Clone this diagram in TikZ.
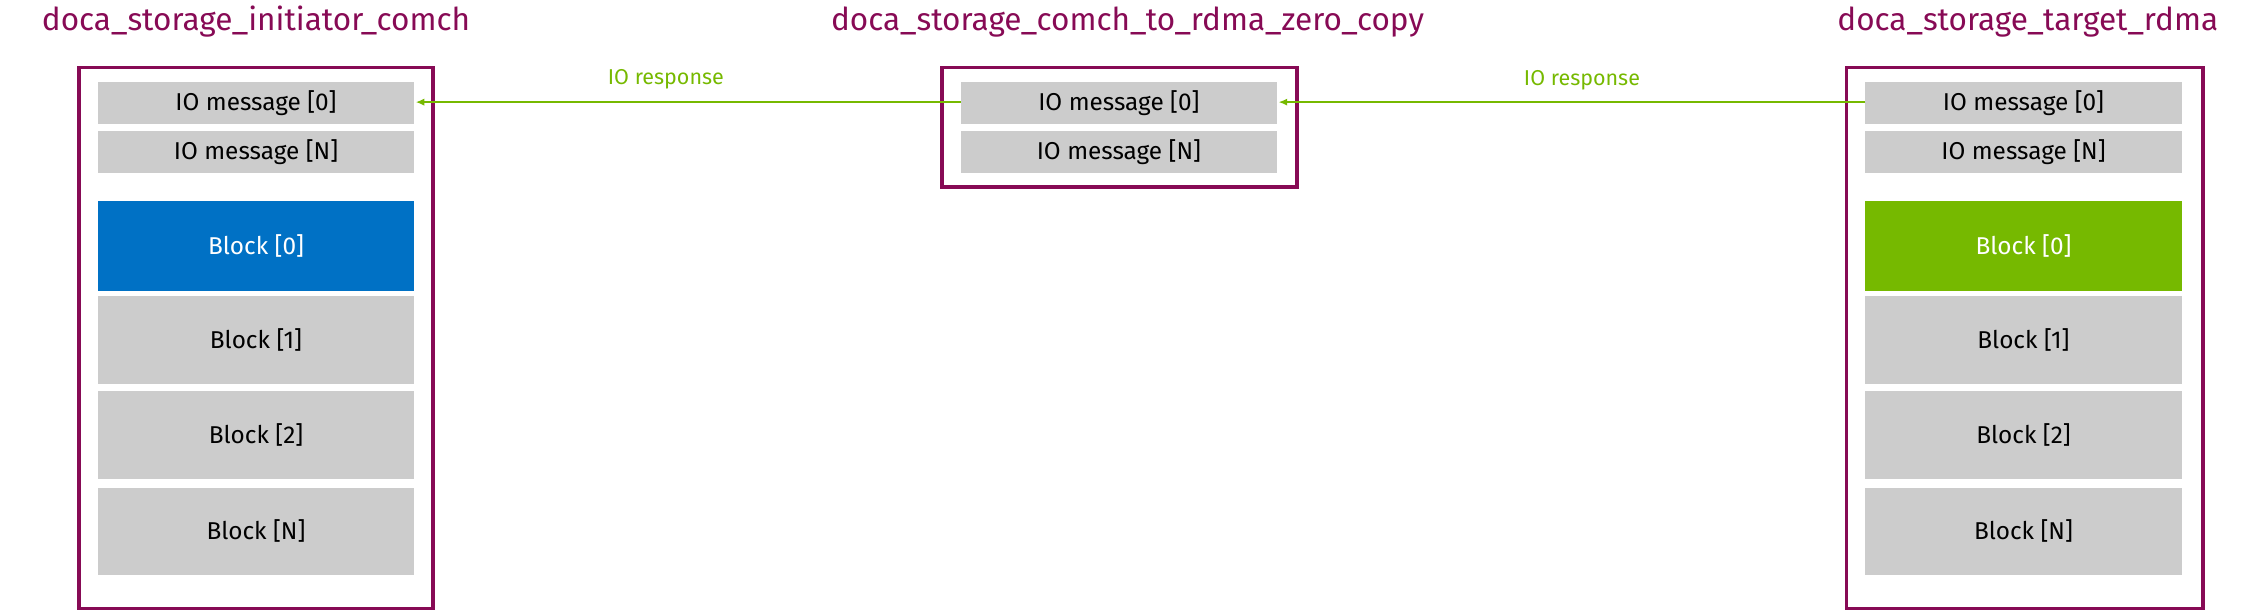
\documentclass[tikz,border=0pt]{standalone}
\usepackage{fontspec}
\setmainfont{Fira Sans}
\definecolor{plum}{HTML}{870A55}
\definecolor{nvgreen}{HTML}{76B900}
\definecolor{nvblue}{HTML}{0071C5}
\definecolor{cellgray}{HTML}{CCCCCC}
\begin{document}
\begin{tikzpicture}[x=1bp,y=-1bp,
  frame/.style={draw=plum,line width=2.5bp},
  cell/.style={fill=cellgray,inner sep=0,font=\fontsize{17}{20}\selectfont},
  title/.style={text=plum,inner sep=0,font=\fontsize{22}{26}\selectfont},
  resp/.style={nvgreen,line width=1.2bp,-{Latex[length=6bp,width=5bp]}},
  rlabel/.style={text=nvgreen,inner sep=0,font=\fontsize{15}{18}\selectfont}]
\usetikzlibrary{arrows.meta}
\useasboundingbox (0,0) rectangle (1568,428);
% titles
\node[title] (t1) at (178,15) {doca\_storage\_initiator\_comch};
\node[title] (t2) at (784,15) {doca\_storage\_comch\_to\_rdma\_zero\_copy};
\node[title] (t3) at (1410,15) {doca\_storage\_target\_rdma};
% frames
\draw[frame] (55,47) rectangle (301,423);
\draw[frame] (655,47) rectangle (902,130);
\draw[frame] (1284,47) rectangle (1532,423);
% cells
\foreach \x/\p in {68/L,668/M,1297/R}{
  \path[cell] (\x,57) rectangle ++(220,29) node[midway] (\p m0) {IO message [0]};
  \path[cell] (\x,91) rectangle ++(220,29) node[midway] (\p mN) {IO message [N]};
}
\foreach \x/\p in {68/L,1297/R}{
  \path[cell] (\x,206) rectangle ++(220,61) node[midway] (\p b1) {Block [1]};
  \path[cell] (\x,272) rectangle ++(220,61) node[midway] (\p b2) {Block [2]};
  \path[cell] (\x,339) rectangle ++(220,61) node[midway] (\p bN) {Block [N]};
}
\path[cell,fill=nvblue] (68,140) rectangle ++(220,62) node[midway,text=white] (Lb0) {Block [0]};
\path[cell,fill=nvgreen] (1297,140) rectangle ++(220,62) node[midway,text=white] (Rb0) {Block [0]};
% connectors
\coordinate (Mleft) at (668,71);
\coordinate (Lright) at (289,71);
\coordinate (Rleft) at (1297,71);
\coordinate (Mright) at (889,71);
\draw[resp] (Mleft) -- (Lright);
\draw[resp] (Rleft) -- (Mright);
\node[rlabel] (l1) at (463,55) {IO response};
\node[rlabel] (l2) at (1100,56) {IO response};
\end{tikzpicture}
\end{document}
